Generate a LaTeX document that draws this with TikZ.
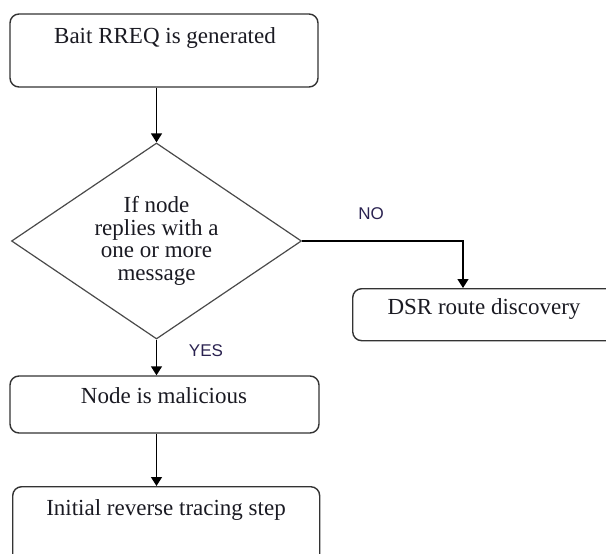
\documentclass[tikz,border=0pt]{standalone}
\usepackage{fontspec}
\setmainfont{Liberation Serif}
\setsansfont{Liberation Sans}
\usetikzlibrary{shapes.geometric,arrows.meta}
\definecolor{boxline}{HTML}{333333}
\definecolor{dline}{HTML}{4A4A4A}
\definecolor{txt}{HTML}{1A1A22}
\definecolor{lbl}{HTML}{2A2250}
\tikzset{
  stepbox/.style={draw=boxline, line width=1.4pt, rounded corners=9pt, rectangle, inner sep=0pt},
  boxtext/.style={anchor=base, inner sep=0pt, text=txt, font=\fontsize{23}{26}\selectfont},
  decision/.style={draw=dline, line width=1.2pt, diamond, aspect=1.48, inner sep=0pt,
    minimum width=290pt, minimum height=196pt, align=center, text=txt,
    font=\fontsize{23}{22.5}\selectfont},
  lbltext/.style={anchor=base, inner sep=0pt, text=lbl, font=\sffamily\fontsize{17}{20}\selectfont},
  arr/.style={draw=black, line width=1.4pt, -{Triangle[width=11pt,length=9pt]}},
}
\begin{document}
\begin{tikzpicture}[x=1pt,y=-1pt]
\useasboundingbox (0,0) rectangle (606,554);
\clip (0,0) rectangle (606,554);
% boxes
\node[stepbox, minimum width=308pt, minimum height=73pt] (b1) at (164,50.5) {};
\node[boxtext] (t1) at (165,43) {Bait RREQ is generated};
\node[decision] (d) at (156.5,241) {If node\\replies with a\\one or more\\message};
\node[stepbox, minimum width=300pt, minimum height=52pt, anchor=north west] (dsr) at (352,288) {};
\node[boxtext] (t2) at (484,314) {DSR route discovery};
\node[stepbox, minimum width=309pt, minimum height=57pt] (nm) at (164.5,404.5) {};
\node[boxtext] (t3) at (164,403) {Node is malicious};
\node[stepbox, minimum width=307pt, minimum height=90pt, anchor=north west] (init) at (12,486) {};
\node[boxtext] (t4) at (166,515) {Initial reverse tracing step};
% labels
\node[lbltext] (no) at (371,219) {NO};
\node[lbltext] (yes) at (206,356) {YES};
% connectors
\coordinate (dsrin) at ([xshift=111pt]dsr.north west);
\draw[arr] (d.north |- b1.south) -- (d.north);
\draw[arr] (d.east) -| (dsrin);
\draw[arr] (d.south) -- (d.south |- nm.north);
\draw[arr] (d.south |- nm.south) -- (d.south |- init.north);
\end{tikzpicture}
\end{document}
